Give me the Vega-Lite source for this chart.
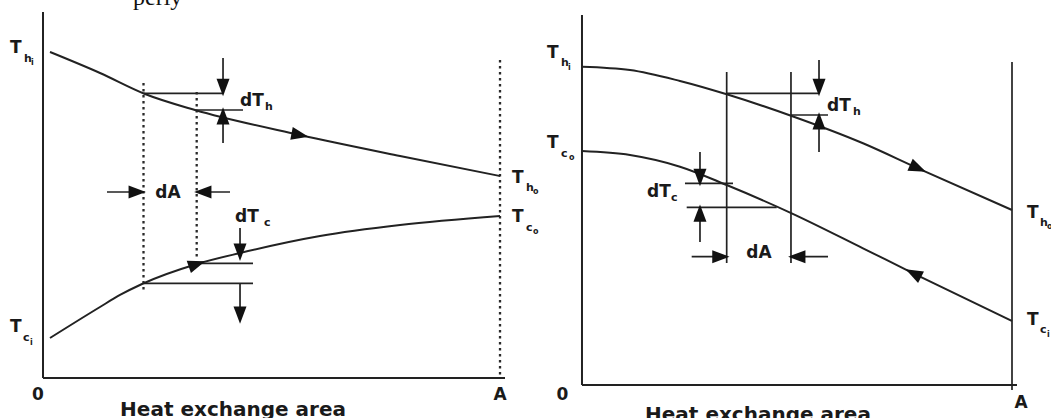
{
  "$schema": "https://vega.github.io/schema/vega-lite/v6.json",
  "background": "white",
  "padding": 0,
  "spacing": 0,
  "bounds": "flush",
  "config": {"view": {"stroke": null}},
  "datasets": {
    "left_curves": [
      {"series": "hot", "area": 0.0153, "temp": 100.0},
      {"series": "hot", "area": 0.1247, "temp": 93.56},
      {"series": "hot", "area": 0.2232, "temp": 87.12},
      {"series": "hot", "area": 0.3326, "temp": 82.21},
      {"series": "hot", "area": 0.5624, "temp": 74.54},
      {"series": "hot", "area": 0.7812, "temp": 68.10},
      {"series": "hot", "area": 1.0, "temp": 61.96},
      {"series": "cold", "area": 0.0153, "temp": 12.27},
      {"series": "cold", "area": 0.1247, "temp": 21.78},
      {"series": "cold", "area": 0.1685, "temp": 25.46},
      {"series": "cold", "area": 0.2166, "temp": 28.83},
      {"series": "cold", "area": 0.3370, "temp": 34.97},
      {"series": "cold", "area": 0.4311, "temp": 38.34},
      {"series": "cold", "area": 0.6061, "temp": 43.56},
      {"series": "cold", "area": 0.7812, "temp": 46.93},
      {"series": "cold", "area": 1.0, "temp": 49.69}
    ],
    "left_segments": [
      {"kind": "axis", "area": 0, "temp": 112.27, "area2": 0, "temp2": 0},
      {"kind": "axis", "area": 0, "temp": 0, "area2": 1.0109, "temp2": 0},
      {"kind": "dotted", "area": 0.2199, "temp": 90.49, "area2": 0.2199, "temp2": 26.38},
      {"kind": "dotted", "area": 0.3363, "temp": 87.73, "area2": 0.3363, "temp2": 36.81},
      {"kind": "dotted", "area": 1.0, "temp": 97.55, "area2": 1.0, "temp2": 0},
      {"kind": "solid", "area": 0.2199, "temp": 87.33, "area2": 0.3939, "temp2": 87.33},
      {"kind": "solid", "area": 0.3326, "temp": 82.21, "area2": 0.4376, "temp2": 82.21},
      {"kind": "solid", "area": 0.3326, "temp": 35.17, "area2": 0.4595, "temp2": 35.17},
      {"kind": "solid", "area": 0.2199, "temp": 29.04, "area2": 0.4595, "temp2": 29.04},
      {"kind": "solid", "area": 0.3939, "temp": 98.16, "area2": 0.3939, "temp2": 87.33},
      {"kind": "solid", "area": 0.3939, "temp": 72.09, "area2": 0.3939, "temp2": 82.21},
      {"kind": "solid", "area": 0.4311, "temp": 46.01, "area2": 0.4311, "temp2": 36.81},
      {"kind": "solid", "area": 0.4311, "temp": 29.04, "area2": 0.4311, "temp2": 17.48},
      {"kind": "solid", "area": 0.1400, "temp": 57.06, "area2": 0.2199, "temp2": 57.06},
      {"kind": "solid", "area": 0.4092, "temp": 57.06, "area2": 0.3363, "temp2": 57.06}
    ],
    "left_heads": [
      {"area": 0.3939, "temp": 89.1, "angle": 180},
      {"area": 0.3939, "temp": 80.43, "angle": 0},
      {"area": 0.4311, "temp": 38.58, "angle": 180},
      {"area": 0.4311, "temp": 19.26, "angle": 180},
      {"area": 0.2062, "temp": 57.06, "angle": 90},
      {"area": 0.3496, "temp": 57.06, "angle": 270},
      {"area": 0.5624, "temp": 74.54, "angle": 101},
      {"area": 0.3370, "temp": 34.97, "angle": 71}
    ],
    "left_text": [
      {"role": "main", "text": "T", "area": -0.0722, "temp": 99.69},
      {"role": "main", "text": "T", "area": -0.0722, "temp": 14.11},
      {"role": "main", "text": "T", "area": 1.0263, "temp": 59.82},
      {"role": "main", "text": "T", "area": 1.0263, "temp": 47.85},
      {"role": "main", "text": "dT", "area": 0.4311, "temp": 83.44},
      {"role": "main", "text": "dT", "area": 0.4201, "temp": 47.85},
      {"role": "sub", "text": "h", "area": -0.0416, "temp": 96.93},
      {"role": "sub", "text": "c", "area": -0.0438, "temp": 11.35},
      {"role": "sub", "text": "h", "area": 1.0569, "temp": 57.36},
      {"role": "sub", "text": "c", "area": 1.0569, "temp": 45.09},
      {"role": "sub", "text": "h", "area": 0.4858, "temp": 82.21},
      {"role": "sub", "text": "c", "area": 0.4836, "temp": 46.63},
      {"role": "subsub", "text": "i", "area": -0.0263, "temp": 96.01},
      {"role": "subsub", "text": "i", "area": -0.0284, "temp": 10.12},
      {"role": "subsub", "text": "o", "area": 1.0722, "temp": 56.44},
      {"role": "subsub", "text": "o", "area": 1.0722, "temp": 44.17},
      {"role": "center", "text": "dA", "area": 0.2735, "temp": 55.21},
      {"role": "center", "text": "0", "area": -0.0109, "temp": -6.75},
      {"role": "center", "text": "A", "area": 1.0, "temp": -6.75},
      {"role": "title", "text": "Heat exchange area", "area": 0.4158, "temp": -11.66},
      {"role": "above", "text": "perly", "area": 0.1969, "temp": 114.42}
    ],
    "right_curves": [
      {"series": "hot", "area": 0.0, "temp": 100.1},
      {"series": "hot", "area": 0.1116, "temp": 99.06},
      {"series": "hot", "area": 0.2279, "temp": 95.60},
      {"series": "hot", "area": 0.3365, "temp": 91.42},
      {"series": "hot", "area": 0.4877, "temp": 84.59},
      {"series": "hot", "area": 0.6535, "temp": 76.01},
      {"series": "hot", "area": 0.7814, "temp": 68.14},
      {"series": "hot", "area": 1.0, "temp": 55.03},
      {"series": "cold", "area": 0.0, "temp": 73.58},
      {"series": "cold", "area": 0.1116, "temp": 72.33},
      {"series": "cold", "area": 0.2279, "temp": 68.65},
      {"series": "cold", "area": 0.3365, "temp": 62.89},
      {"series": "cold", "area": 0.4877, "temp": 53.99},
      {"series": "cold", "area": 0.6535, "temp": 42.99},
      {"series": "cold", "area": 0.7705, "temp": 35.13},
      {"series": "cold", "area": 1.0, "temp": 20.13}
    ],
    "right_segments": [
      {"kind": "axis", "area": 0, "temp": 116.35, "area2": 0, "temp2": 0},
      {"kind": "axis", "area": 0, "temp": 0, "area2": 1.0116, "temp2": 0},
      {"kind": "solid", "area": 0.3365, "temp": 98.43, "area2": 0.3365, "temp2": 38.36},
      {"kind": "solid", "area": 0.4860, "temp": 98.43, "area2": 0.4860, "temp2": 38.36},
      {"kind": "solid", "area": 1.0, "temp": 101.57, "area2": 1.0, "temp2": -1.57},
      {"kind": "solid", "area": 0.3365, "temp": 91.73, "area2": 0.5512, "temp2": 91.73},
      {"kind": "solid", "area": 0.4860, "temp": 84.91, "area2": 0.5721, "temp2": 84.91},
      {"kind": "solid", "area": 0.2395, "temp": 63.43, "area2": 0.3512, "temp2": 63.43},
      {"kind": "solid", "area": 0.2435, "temp": 55.88, "area2": 0.4528, "temp2": 55.88},
      {"kind": "solid", "area": 0.5512, "temp": 102.2, "area2": 0.5512, "temp2": 91.73},
      {"kind": "solid", "area": 0.5512, "temp": 73.27, "area2": 0.5512, "temp2": 84.91},
      {"kind": "solid", "area": 0.2744, "temp": 73.27, "area2": 0.2744, "temp2": 63.43},
      {"kind": "solid", "area": 0.2744, "temp": 44.97, "area2": 0.2744, "temp2": 55.88},
      {"kind": "solid", "area": 0.2551, "temp": 40.35, "area2": 0.3365, "temp2": 40.35},
      {"kind": "solid", "area": 0.5721, "temp": 40.35, "area2": 0.4860, "temp2": 40.35}
    ],
    "right_heads": [
      {"area": 0.5512, "temp": 93.55, "angle": 180},
      {"area": 0.5512, "temp": 83.08, "angle": 0},
      {"area": 0.2744, "temp": 65.25, "angle": 180},
      {"area": 0.2744, "temp": 54.06, "angle": 0},
      {"area": 0.3230, "temp": 40.35, "angle": 90},
      {"area": 0.4995, "temp": 40.35, "angle": 270},
      {"area": 0.7814, "temp": 68.14, "angle": 114},
      {"area": 0.7705, "temp": 35.13, "angle": 297}
    ],
    "right_text": [
      {"role": "main", "text": "T", "area": -0.0814, "temp": 102.83},
      {"role": "main", "text": "T", "area": -0.0814, "temp": 74.53},
      {"role": "main", "text": "T", "area": 1.0349, "temp": 52.52},
      {"role": "main", "text": "T", "area": 1.0349, "temp": 18.87},
      {"role": "main", "text": "dT", "area": 0.5698, "temp": 86.16},
      {"role": "main", "text": "dT", "area": 0.1512, "temp": 59.12},
      {"role": "sub", "text": "h", "area": -0.0488, "temp": 100.31},
      {"role": "sub", "text": "c", "area": -0.0488, "temp": 71.70},
      {"role": "sub", "text": "h", "area": 1.0651, "temp": 50.0},
      {"role": "sub", "text": "c", "area": 1.0651, "temp": 16.35},
      {"role": "sub", "text": "h", "area": 0.6302, "temp": 84.91},
      {"role": "sub", "text": "c", "area": 0.2070, "temp": 57.86},
      {"role": "subsub", "text": "i", "area": -0.0326, "temp": 99.06},
      {"role": "subsub", "text": "o", "area": -0.0302, "temp": 70.75},
      {"role": "subsub", "text": "o", "area": 1.0814, "temp": 49.06},
      {"role": "subsub", "text": "i", "area": 1.0814, "temp": 15.09},
      {"role": "center", "text": "dA", "area": 0.4116, "temp": 39.94},
      {"role": "center", "text": "0", "area": -0.0453, "temp": -4.72},
      {"role": "center", "text": "A", "area": 1.0209, "temp": -7.23},
      {"role": "title", "text": "Heat exchange area", "area": 0.4093, "temp": -11.32}
    ]
  },
  "hconcat": [
    {
      "width": 530,
      "height": 418,
      "encoding": {
        "x": {"field": "area", "type": "quantitative", "axis": null, "scale": {"domain": [-0.0941, 1.0656], "nice": false, "zero": false}},
        "y": {"field": "temp", "type": "quantitative", "axis": null, "scale": {"domain": [-12.27, 115.95], "nice": false, "zero": false}}
      },
      "layer": [
        {
          "data": {"name": "left_segments"},
          "transform": [{"filter": "datum.kind === 'axis'"}],
          "mark": {"type": "rule", "color": "#222", "strokeWidth": 2},
          "encoding": {"x2": {"field": "area2"}, "y2": {"field": "temp2"}}
        },
        {
          "data": {"name": "left_segments"},
          "transform": [{"filter": "datum.kind === 'solid'"}],
          "mark": {"type": "rule", "color": "#222", "strokeWidth": 1.7},
          "encoding": {"x2": {"field": "area2"}, "y2": {"field": "temp2"}}
        },
        {
          "data": {"name": "left_segments"},
          "transform": [{"filter": "datum.kind === 'dotted'"}],
          "mark": {"type": "rule", "color": "#2a2a2a", "strokeWidth": 2.3, "strokeDash": [2.5, 3.5]},
          "encoding": {"x2": {"field": "area2"}, "y2": {"field": "temp2"}}
        },
        {
          "data": {"name": "left_curves"},
          "mark": {"type": "line", "interpolate": "monotone", "color": "#222", "strokeWidth": 2},
          "encoding": {"detail": {"field": "series"}}
        },
        {
          "data": {"name": "left_heads"},
          "mark": {"type": "point", "shape": "M0,-1L-0.75,1L0.75,1Z", "filled": true, "size": 300, "color": "#111", "opacity": 1},
          "encoding": {"angle": {"field": "angle", "type": "quantitative", "scale": null}}
        },
        {
          "data": {"name": "left_text"},
          "transform": [{"filter": "datum.role === 'main'"}],
          "mark": {"type": "text", "font": "DejaVu Sans", "fontWeight": "bold", "fontSize": 17, "align": "left", "baseline": "alphabetic", "color": "#1a1a1a"},
          "encoding": {"text": {"field": "text"}}
        },
        {
          "data": {"name": "left_text"},
          "transform": [{"filter": "datum.role === 'sub'"}],
          "mark": {"type": "text", "font": "DejaVu Sans", "fontWeight": "bold", "fontSize": 11, "align": "left", "baseline": "alphabetic", "color": "#1a1a1a"},
          "encoding": {"text": {"field": "text"}}
        },
        {
          "data": {"name": "left_text"},
          "transform": [{"filter": "datum.role === 'subsub'"}],
          "mark": {"type": "text", "font": "DejaVu Sans", "fontWeight": "bold", "fontSize": 8, "align": "left", "baseline": "alphabetic", "color": "#1a1a1a"},
          "encoding": {"text": {"field": "text"}}
        },
        {
          "data": {"name": "left_text"},
          "transform": [{"filter": "datum.role === 'center'"}],
          "mark": {"type": "text", "font": "DejaVu Sans", "fontWeight": "bold", "fontSize": 17, "align": "center", "baseline": "alphabetic", "color": "#1a1a1a"},
          "encoding": {"text": {"field": "text"}}
        },
        {
          "data": {"name": "left_text"},
          "transform": [{"filter": "datum.role === 'title'"}],
          "mark": {"type": "text", "font": "DejaVu Sans", "fontWeight": "bold", "fontSize": 20, "align": "center", "baseline": "alphabetic", "color": "#1a1a1a", "clip": true},
          "encoding": {"text": {"field": "text"}}
        },
        {
          "data": {"name": "left_text"},
          "transform": [{"filter": "datum.role === 'above'"}],
          "mark": {"type": "text", "font": "Liberation Serif", "fontSize": 24, "align": "left", "baseline": "alphabetic", "color": "#111", "clip": true},
          "encoding": {"text": {"field": "text"}}
        }
      ]
    },
    {
      "width": 521,
      "height": 418,
      "encoding": {
        "x": {"field": "area", "type": "quantitative", "axis": null, "scale": {"domain": [-0.1209, 1.0907], "nice": false, "zero": false}},
        "y": {"field": "temp", "type": "quantitative", "axis": null, "scale": {"domain": [-10.377, 121.07], "nice": false, "zero": false}}
      },
      "layer": [
        {
          "data": {"name": "right_segments"},
          "transform": [{"filter": "datum.kind === 'axis'"}],
          "mark": {"type": "rule", "color": "#222", "strokeWidth": 2},
          "encoding": {"x2": {"field": "area2"}, "y2": {"field": "temp2"}}
        },
        {
          "data": {"name": "right_segments"},
          "transform": [{"filter": "datum.kind === 'solid'"}],
          "mark": {"type": "rule", "color": "#222", "strokeWidth": 1.7},
          "encoding": {"x2": {"field": "area2"}, "y2": {"field": "temp2"}}
        },
        {
          "data": {"name": "right_curves"},
          "mark": {"type": "line", "interpolate": "monotone", "color": "#222", "strokeWidth": 2},
          "encoding": {"detail": {"field": "series"}}
        },
        {
          "data": {"name": "right_heads"},
          "mark": {"type": "point", "shape": "M0,-1L-0.75,1L0.75,1Z", "filled": true, "size": 300, "color": "#111", "opacity": 1},
          "encoding": {"angle": {"field": "angle", "type": "quantitative", "scale": null}}
        },
        {
          "data": {"name": "right_text"},
          "transform": [{"filter": "datum.role === 'main'"}],
          "mark": {"type": "text", "font": "DejaVu Sans", "fontWeight": "bold", "fontSize": 17, "align": "left", "baseline": "alphabetic", "color": "#1a1a1a", "clip": true},
          "encoding": {"text": {"field": "text"}}
        },
        {
          "data": {"name": "right_text"},
          "transform": [{"filter": "datum.role === 'sub'"}],
          "mark": {"type": "text", "font": "DejaVu Sans", "fontWeight": "bold", "fontSize": 11, "align": "left", "baseline": "alphabetic", "color": "#1a1a1a", "clip": true},
          "encoding": {"text": {"field": "text"}}
        },
        {
          "data": {"name": "right_text"},
          "transform": [{"filter": "datum.role === 'subsub'"}],
          "mark": {"type": "text", "font": "DejaVu Sans", "fontWeight": "bold", "fontSize": 8, "align": "left", "baseline": "alphabetic", "color": "#1a1a1a", "clip": true},
          "encoding": {"text": {"field": "text"}}
        },
        {
          "data": {"name": "right_text"},
          "transform": [{"filter": "datum.role === 'center'"}],
          "mark": {"type": "text", "font": "DejaVu Sans", "fontWeight": "bold", "fontSize": 17, "align": "center", "baseline": "alphabetic", "color": "#1a1a1a", "clip": true},
          "encoding": {"text": {"field": "text"}}
        },
        {
          "data": {"name": "right_text"},
          "transform": [{"filter": "datum.role === 'title'"}],
          "mark": {"type": "text", "font": "DejaVu Sans", "fontWeight": "bold", "fontSize": 20, "align": "center", "baseline": "alphabetic", "color": "#1a1a1a", "clip": true},
          "encoding": {"text": {"field": "text"}}
        }
      ]
    }
  ]
}
